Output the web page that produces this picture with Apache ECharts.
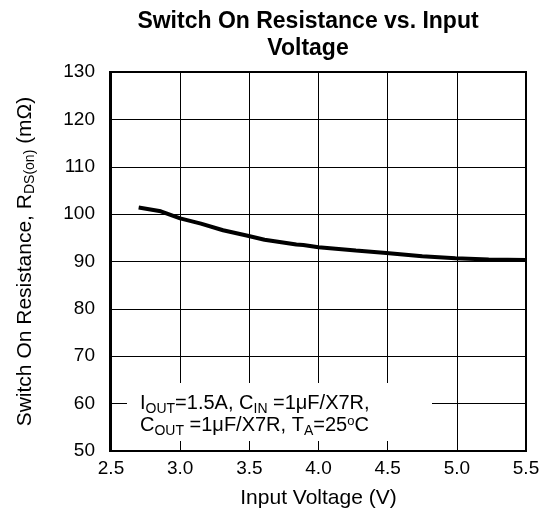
<!DOCTYPE html>
<html><head><meta charset="utf-8">
<script src="https://cdn.jsdelivr.net/npm/echarts@6/dist/echarts.min.js"></script>
<style>html,body{margin:0;padding:0;background:#fff}#c{width:546px;height:517px}</style>
</head><body><div id="c"></div>
<script>
var voltage = [2.70, 2.86, 3.00, 3.15, 3.31, 3.48, 3.61, 3.84, 3.89, 4.00, 4.27, 4.49, 4.75, 4.99, 5.23, 5.50];
var resistance = [101.4, 100.6, 99.1, 98.0, 96.6, 95.5, 94.6, 93.6, 93.5, 93.0, 92.3, 91.8, 91.1, 90.7, 90.4, 90.3];
var xTicks = [2.5, 3.0, 3.5, 4.0, 4.5, 5.0, 5.5];
var yTicks = [50, 60, 70, 80, 90, 100, 110, 120, 130];

var F = 'Liberation Sans, Arial, sans-serif';
var chart = echarts.init(document.getElementById('c'));
var data = voltage.map(function (v, i) { return [v, resistance[i]]; });
chart.setOption({
  animation: false,
  backgroundColor: '#fff',
  title: {
    text: 'Switch On Resistance vs. Input\nVoltage',
    left: 303, top: 3, textAlign: 'center',
    textStyle: { fontFamily: F, fontSize: 23, fontWeight: 'bold', color: '#000', lineHeight: 27 }
  },
  grid: { left: 111, right: 20, top: 72, bottom: 66 },
  xAxis: {
    type: 'value', min: xTicks[0], max: xTicks[xTicks.length - 1], interval: 0.5,
    name: 'Input Voltage (V)', nameLocation: 'middle', nameGap: 37,
    nameTextStyle: { fontFamily: F, fontSize: 21, color: '#000' },
    axisLine: { show: true, onZero: false, lineStyle: { color: '#000', width: 2 } },
    axisTick: { show: false },
    axisLabel: { fontFamily: F, fontSize: 19, color: '#000', margin: 8, formatter: function (v) { return v.toFixed(1); } },
    splitLine: { show: true, lineStyle: { color: '#000', width: 1 } }
  },
  yAxis: {
    type: 'value', min: yTicks[0], max: yTicks[yTicks.length - 1], interval: 10,
    name: '{a|Switch On Resistance, R}{s|DS(on)}{a| (mΩ)}', nameLocation: 'middle', nameGap: 74,
    nameTextStyle: { fontFamily: F, fontSize: 21, color: '#000',
      rich: {
        a: { fontFamily: F, fontSize: 21, color: '#000', lineHeight: 24 },
        s: { fontFamily: F, fontSize: 14, color: '#000', lineHeight: 24, padding: [11, 0, 0, 0] }
      } },
    axisLine: { show: true, onZero: false, lineStyle: { color: '#000', width: 2 } },
    axisTick: { show: false },
    axisLabel: { fontFamily: F, fontSize: 19, color: '#000', margin: 16 },
    splitLine: { show: true, lineStyle: { color: '#000', width: 1 } }
  },
  graphic: [
    { type: 'rect', shape: { x: 127, y: 383, width: 305, height: 58 }, style: { fill: '#fff' }, z: 10 },
    { type: 'rect', shape: { x: 110, y: 72, width: 416, height: 379 }, style: { fill: 'none', stroke: '#000', lineWidth: 2 }, z: 11 },
    { type: 'text', left: 140, top: 390, z: 12,
      style: {
        text: '{a|I}{s|OUT}{a|=1.5A, C}{s|IN}{a| =1μF/X7R,}\n{a|C}{s|OUT}{a| =1μF/X7R, T}{s|A}{a|=25}{p|o}{a|C}',
        rich: {
          a: { fontFamily: F, fontSize: 20, fill: '#000', lineHeight: 22 },
          s: { fontFamily: F, fontSize: 14, fill: '#000', lineHeight: 22, padding: [12, 0, 0, 0] },
          p: { fontFamily: F, fontSize: 13, fill: '#000', lineHeight: 22, padding: [0, 0, 8, 0] }
        }
      } }
  ],
  series: [{
    type: 'line', data: data, showSymbol: false, smooth: false,
    lineStyle: { color: '#000', width: 4 }
  }]
});
</script></body></html>
